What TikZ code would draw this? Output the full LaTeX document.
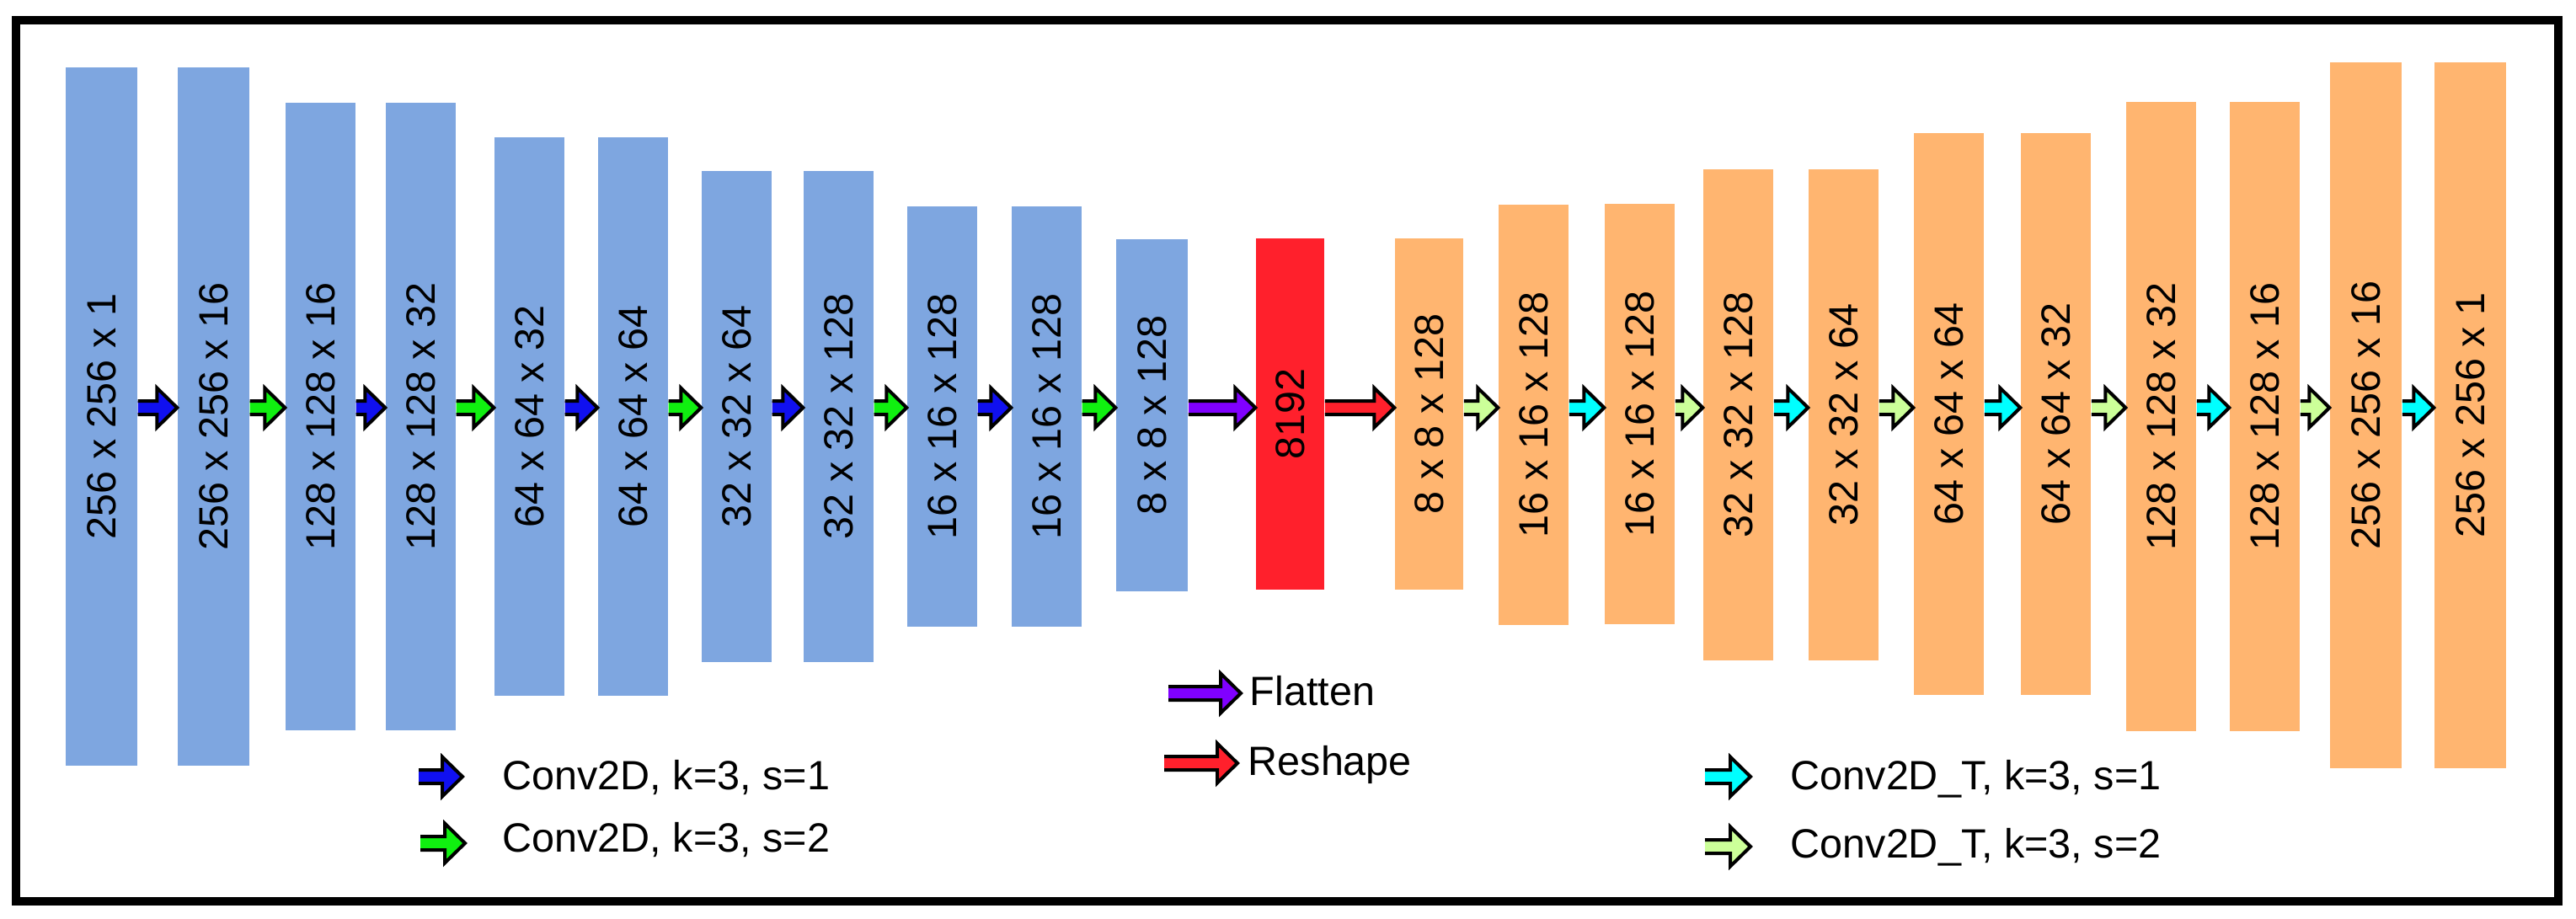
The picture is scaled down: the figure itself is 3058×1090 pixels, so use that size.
\documentclass[tikz,border=0pt]{standalone}
\usepackage{fontspec}
\setmainfont{Liberation Sans}
\usetikzlibrary{calc}

\definecolor{encblue}{RGB}{126,166,224}
\definecolor{decorange}{RGB}{255,181,112}
\definecolor{flatred}{RGB}{255,32,44}
\definecolor{convone}{RGB}{16,16,240}
\definecolor{convtwo}{RGB}{16,240,16}
\definecolor{flatpurple}{RGB}{128,0,255}
\definecolor{deconvone}{RGB}{0,255,255}
\definecolor{deconvtwo}{RGB}{204,255,153}

% block arrow: tail point, tip point, fill colour
\newcommand{\flowarrow}[3]{%
  \filldraw[fill=#3, draw=black, line width=0.04cm, line join=miter]
    ($(#1)+(0,-8)$) -- ($(#2)+(-24,-8)$) -- ($(#2)+(-24,-23.5)$) -- (#2)
    -- ($(#2)+(-24,23.5)$) -- ($(#2)+(-24,8)$) -- ($(#1)+(0,8)$);
}

\begin{document}
\begin{tikzpicture}[
        x=0.01cm, y=-0.01cm,
        bar/.style={rectangle, inner sep=0pt, minimum width=0.83cm, font=\fontsize{13.8}{16}\selectfont},
        enc/.style={bar, fill=encblue},
        dec/.style={bar, fill=decorange},
        legendtext/.style={inner sep=0pt, anchor=base west, font=\fontsize{13.8}{16}\selectfont}
    ]
        \useasboundingbox (0,0) rectangle (3058,1090);

        % Frame
        \draw[line width=0.1cm] (19,23.5) rectangle (3036.5,1069.5);

        % Encoder
        \node[enc, minimum width=0.85cm, minimum height=8.29cm] (b1) at (120.5,494.5) {\rotatebox{90}{256 x 256 x 1}};
        \node[enc, minimum width=0.85cm, minimum height=8.29cm] (b2) at (253.5,494.5) {\rotatebox{90}{256 x 256 x 16}};
        \node[enc, minimum height=7.45cm] (b3) at (380.5,494.5) {\rotatebox{90}{128 x 128 x 16}};
        \node[enc, minimum height=7.45cm] (b4) at (499.5,494.5) {\rotatebox{90}{128 x 128 x 32}};
        \node[enc, minimum height=6.63cm] (b5) at (628.5,494.5) {\rotatebox{90}{64 x 64 x 32}};
        \node[enc, minimum height=6.63cm] (b6) at (751.5,494.5) {\rotatebox{90}{64 x 64 x 64}};
        \node[enc, minimum height=5.83cm] (b7) at (874.5,494.5) {\rotatebox{90}{32 x 32 x 64}};
        \node[enc, minimum height=5.83cm] (b8) at (995.5,494.5) {\rotatebox{90}{32 x 32 x 128}};
        \node[enc, minimum height=4.99cm] (b9) at (1118.5,494.5) {\rotatebox{90}{16 x 16 x 128}};
        \node[enc, minimum height=4.99cm] (b10) at (1242.5,494.5) {\rotatebox{90}{16 x 16 x 128}};
        \node[enc, minimum width=0.85cm, minimum height=4.18cm] (b11) at (1367.5,493) {\rotatebox{90}{8 x 8 x 128}};

        % Latent vector
        \node[bar, fill=flatred, minimum width=0.81cm, minimum height=4.17cm] (lat) at (1531.5,491.5) {\rotatebox{90}{8192}};

        % Decoder
        \node[dec, minimum width=0.81cm, minimum height=4.17cm] (o1) at (1696.5,491.5) {\rotatebox{90}{8 x 8 x 128}};
        \node[dec, minimum height=4.99cm] (o2) at (1820.5,492.5) {\rotatebox{90}{16 x 16 x 128}};
        \node[dec, minimum height=4.99cm] (o3) at (1946.5,491.5) {\rotatebox{90}{16 x 16 x 128}};
        \node[dec, minimum height=5.83cm] (o4) at (2063.5,492.5) {\rotatebox{90}{32 x 32 x 128}};
        \node[dec, minimum height=5.83cm] (o5) at (2188.5,492.5) {\rotatebox{90}{32 x 32 x 64}};
        \node[dec, minimum height=6.67cm] (o6) at (2313.5,491.5) {\rotatebox{90}{64 x 64 x 64}};
        \node[dec, minimum height=6.67cm] (o7) at (2440.5,491.5) {\rotatebox{90}{64 x 64 x 32}};
        \node[dec, minimum height=7.47cm] (o8) at (2565.5,494.5) {\rotatebox{90}{128 x 128 x 32}};
        \node[dec, minimum height=7.47cm] (o9) at (2688.5,494.5) {\rotatebox{90}{128 x 128 x 16}};
        \node[dec, minimum width=0.85cm, minimum height=8.38cm] (o10) at (2808.5,493) {\rotatebox{90}{256 x 256 x 16}};
        \node[dec, minimum width=0.85cm, minimum height=8.38cm] (o11) at (2932.5,493) {\rotatebox{90}{256 x 256 x 1}};

        % Arrows between layers
        \coordinate (axis) at (0,484);
        \flowarrow{b1.east |- axis}{b2.west |- axis}{convone}
        \flowarrow{b2.east |- axis}{b3.west |- axis}{convtwo}
        \flowarrow{b3.east |- axis}{b4.west |- axis}{convone}
        \flowarrow{b4.east |- axis}{b5.west |- axis}{convtwo}
        \flowarrow{b5.east |- axis}{b6.west |- axis}{convone}
        \flowarrow{b6.east |- axis}{b7.west |- axis}{convtwo}
        \flowarrow{b7.east |- axis}{b8.west |- axis}{convone}
        \flowarrow{b8.east |- axis}{b9.west |- axis}{convtwo}
        \flowarrow{b9.east |- axis}{b10.west |- axis}{convone}
        \flowarrow{b10.east |- axis}{b11.west |- axis}{convtwo}
        \flowarrow{b11.east |- axis}{lat.west |- axis}{flatpurple}
        \flowarrow{lat.east |- axis}{o1.west |- axis}{flatred}
        \flowarrow{o1.east |- axis}{o2.west |- axis}{deconvtwo}
        \flowarrow{o2.east |- axis}{o3.west |- axis}{deconvone}
        \flowarrow{o3.east |- axis}{o4.west |- axis}{deconvtwo}
        \flowarrow{o4.east |- axis}{o5.west |- axis}{deconvone}
        \flowarrow{o5.east |- axis}{o6.west |- axis}{deconvtwo}
        \flowarrow{o6.east |- axis}{o7.west |- axis}{deconvone}
        \flowarrow{o7.east |- axis}{o8.west |- axis}{deconvtwo}
        \flowarrow{o8.east |- axis}{o9.west |- axis}{deconvone}
        \flowarrow{o9.east |- axis}{o10.west |- axis}{deconvtwo}
        \flowarrow{o10.east |- axis}{o11.west |- axis}{deconvone}

        % Legend
        \node[legendtext] (conv1) at (596,937) {Conv2D, k=3, s=1};
        \node[legendtext] (conv2) at (596,1011) {Conv2D, k=3, s=2};
        \node[legendtext] (flat) at (1483,837) {Flatten};
        \node[legendtext] (resh) at (1481,920) {Reshape};
        \node[legendtext] (tconv1) at (2125,937) {Conv2D\_T, k=3, s=1};
        \node[legendtext] (tconv2) at (2125,1018) {Conv2D\_T, k=3, s=2};

        \coordinate (c1a) at (497,922);  \coordinate (c1b) at (549,922);
        \coordinate (c2a) at (499,1001); \coordinate (c2b) at (552,1001);
        \coordinate (fla) at (1387,823); \coordinate (flb) at (1473,823);
        \coordinate (rsa) at (1382,906); \coordinate (rsb) at (1469,906);
        \coordinate (t1a) at (2024,922); \coordinate (t1b) at (2078,922);
        \coordinate (t2a) at (2024,1005); \coordinate (t2b) at (2078,1005);
        \flowarrow{c1a}{c1b}{convone}
        \flowarrow{c2a}{c2b}{convtwo}
        \flowarrow{fla}{flb}{flatpurple}
        \flowarrow{rsa}{rsb}{flatred}
        \flowarrow{t1a}{t1b}{deconvone}
        \flowarrow{t2a}{t2b}{deconvtwo}
    \end{tikzpicture}
\end{document}
